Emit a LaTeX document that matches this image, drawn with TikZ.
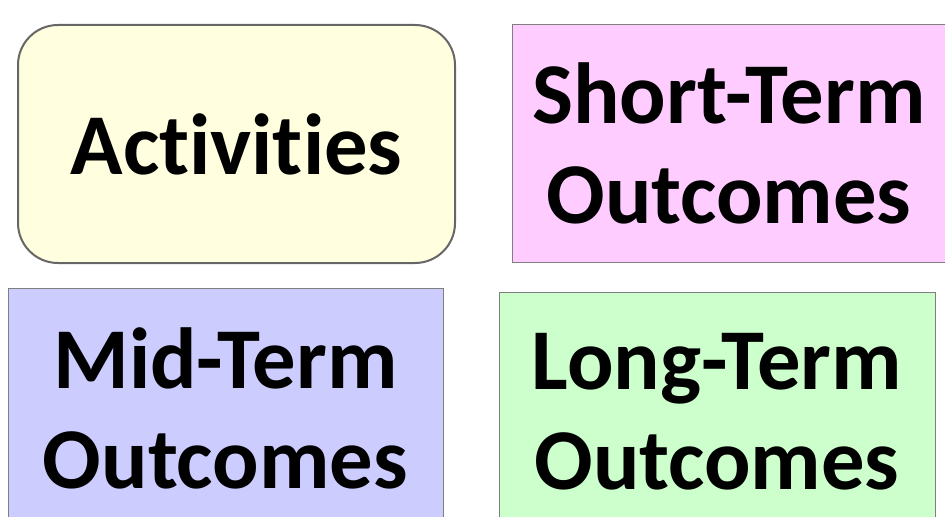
\documentclass[tikz,border=0pt]{standalone}
\usepackage{fontspec}
\setmainfont{Carlito}[Ligatures=NoCommon]
\definecolor{actfill}{HTML}{FFFFE0}
\definecolor{shortfill}{HTML}{FFCCFF}
\definecolor{midfill}{HTML}{CCCCFF}
\definecolor{longfill}{HTML}{CCFFCC}
\definecolor{edgegray}{HTML}{7F7F7F}
\tikzset{stage/.style={draw=edgegray, line width=0.75pt, align=center, inner sep=0pt,
    font=\fontsize{65}{75}\selectfont\bfseries}}

\begin{document}
\begin{tikzpicture}[x=0.75pt, y=-0.75pt]
                \useasboundingbox (0,0) rectangle (945,517);
                \clip (0,0) rectangle (945,517);
                \node (act) [stage, fill=actfill, draw=black!60, line width=1.5pt, rounded corners=30pt,
                    minimum width=327.75pt, minimum height=178.5pt] at (236.5,144) {Activities};
                \node (short) [stage, fill=shortfill, minimum width=325.5pt, minimum height=177.75pt]
                    at (729,143.5) {Short-Term\\Outcomes};
                \node (mid) [stage, fill=midfill, minimum width=326.25pt, minimum height=180pt]
                    at (225.5,408) {Mid-Term\\Outcomes};
                \node (long) [stage, fill=longfill, minimum width=327pt, minimum height=180pt]
                    at (717,412) {Long-Term\\Outcomes};
              \end{tikzpicture}
\end{document}
